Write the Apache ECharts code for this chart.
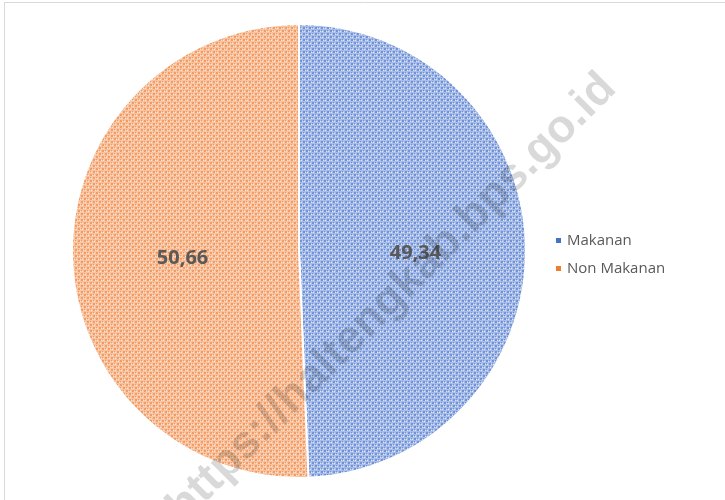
<!DOCTYPE html>
<html><head><meta charset="utf-8">
<script src="https://cdn.jsdelivr.net/npm/echarts@6/dist/echarts.min.js"></script>
<style>html,body{margin:0;padding:0;background:#fff}#c{width:725px;height:500px}</style>
</head><body><div id="c"></div>
<script>
var categories = ['Makanan', 'Non Makanan'];
var values = [49.34, 50.66];
var baseColors = ['#4472C4', '#ED7D31'];
var darkColors = ['#6E93D6', '#F29C64'];
var midColors = ['#A9BDE8', '#F7C3A0'];
var lightColors = ['#DCE5F6', '#FCE3D1'];
var watermark = 'https://haltengkab.bps.go.id';

function makePattern(dark, mid, light) {
  var c = document.createElement('canvas');
  c.width = 6; c.height = 6;
  var g = c.getContext('2d');
  g.fillStyle = mid; g.fillRect(0, 0, 6, 6);
  g.fillStyle = dark;
  g.fillRect(0, 0, 2, 2); g.fillRect(3, 3, 2, 2);
  g.fillRect(3, 0, 1, 1); g.fillRect(0, 3, 1, 1);
  g.fillStyle = light;
  g.fillRect(2, 1, 1, 1); g.fillRect(5, 4, 1, 1);
  g.fillRect(1, 4, 1, 1); g.fillRect(4, 1, 1, 1);
  return c;
}

var chart = echarts.init(document.getElementById('c'), null, {renderer: 'canvas'});
var data = categories.map(function (n, i) {
  return {
    name: n, value: values[i],
    itemStyle: { color: { image: makePattern(darkColors[i], midColors[i], lightColors[i]), repeat: 'repeat' } }
  };
});
chart.setOption({
  animation: false,
  backgroundColor: '#fff',
  color: baseColors,
  legend: {
    orient: 'vertical', left: 549, top: 228, itemGap: 13,
    itemWidth: 7, itemHeight: 7, icon: 'rect',
    textStyle: { color: '#595959', fontSize: 15, fontFamily: 'Open Sans, sans-serif' },
    data: categories.map(function (n, i) { return { name: n, itemStyle: { color: baseColors[i] } }; })
  },
  series: [{
    type: 'pie', center: [299, 251], radius: [0, 227], startAngle: 90, clockwise: true,
    itemStyle: { borderColor: '#fff', borderWidth: 2 },
    label: {
      position: 'inner', color: '#595959', fontSize: 20, fontWeight: 'bold', fontFamily: 'Open Sans, sans-serif',
      offset: [0, 5],
      formatter: function (p) { return p.value.toFixed(2).replace('.', ','); }
    },
    labelLine: { show: false },
    emphasis: { disabled: true },
    data: data
  }],
  graphic: [
    { type: 'line', shape: { x1: 4, y1: 2.5, x2: 725, y2: 2.5 }, style: { stroke: '#D9D9D9', lineWidth: 1 } },
    { type: 'line', shape: { x1: 4.5, y1: 2, x2: 4.5, y2: 500 }, style: { stroke: '#D9D9D9', lineWidth: 1 } },
    { type: 'text', x: 392, y: 298, rotation: Math.PI / 4, z: 100,
      style: { text: watermark, fill: 'rgba(0,0,0,0.15)', font: 'bold 46px "Liberation Sans", Arial, sans-serif',
               align: 'center', verticalAlign: 'middle' } }
  ]
});
</script></body></html>
